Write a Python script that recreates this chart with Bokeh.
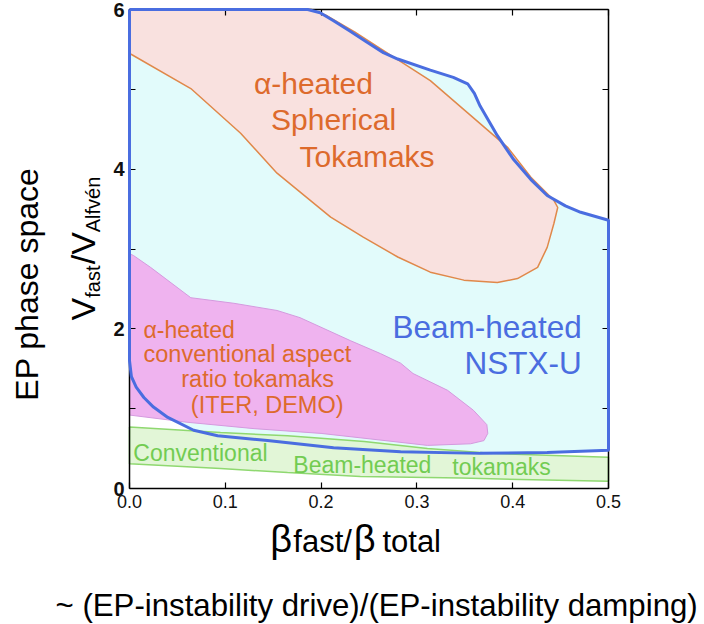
from bokeh.plotting import figure
from bokeh.models import Label, LinearAxis, FixedTicker, NumeralTickFormatter, Range1d
from bokeh.embed import file_html
from bokeh.resources import INLINE

# ---------------- data ----------------
# Beam-heated NSTX-U region boundary (beta_fast/beta_total, V_fast/V_Alfven)
beam_x = [0.0, 0.186, 0.199, 0.213, 0.230, 0.248, 0.265, 0.280, 0.314, 0.338, 0.353, 0.360,
          0.366, 0.384, 0.401, 0.419, 0.436, 0.455, 0.471, 0.5, 0.5, 0.436, 0.366, 0.283,
          0.213, 0.144, 0.092, 0.067, 0.040, 0.025, 0.015, 0.007, 0.002, 0.0]
beam_y = [6.0, 6.0, 5.96, 5.86, 5.73, 5.59, 5.46, 5.38, 5.24, 5.15, 5.07, 4.95,
          4.79, 4.42, 4.12, 3.87, 3.67, 3.54, 3.46, 3.36, 0.48, 0.45, 0.44, 0.46,
          0.51, 0.60, 0.66, 0.73, 0.89, 1.02, 1.14, 1.27, 1.40, 1.60]

# alpha-heated spherical tokamaks region
st_x = [0.0, 0.19, 0.205, 0.235, 0.262, 0.314, 0.366, 0.395, 0.419, 0.443, 0.447, 0.443,
        0.436, 0.426, 0.405, 0.384, 0.349, 0.314, 0.280, 0.244, 0.210, 0.154, 0.116,
        0.064, 0.003, 0.0]
st_y = [6.0, 6.0, 5.93, 5.72, 5.51, 5.11, 4.57, 4.27, 3.90, 3.61, 3.52, 3.32,
        3.02, 2.77, 2.63, 2.58, 2.61, 2.71, 2.90, 3.15, 3.40, 3.95, 4.45,
        5.01, 5.43, 5.45]

# alpha-heated conventional aspect ratio tokamaks region
conv_x = [0.0, 0.004, 0.022, 0.064, 0.109, 0.154, 0.178, 0.231, 0.262, 0.283, 0.296, 0.332,
          0.359, 0.373, 0.374, 0.370, 0.356, 0.311, 0.252, 0.200, 0.130, 0.060, 0.0]
conv_y = [2.94, 2.92, 2.77, 2.39, 2.32, 2.23, 2.14, 1.85, 1.69, 1.57, 1.44, 1.23,
          0.98, 0.80, 0.69, 0.60, 0.56, 0.54, 0.62, 0.69, 0.75, 0.83, 0.92]

# conventional beam-heated tokamaks band
nbi_x = [0.0, 0.095, 0.165, 0.245, 0.311, 0.380, 0.5, 0.5, 0.346, 0.241, 0.165, 0.095, 0.0]
nbi_y = [0.77, 0.70, 0.66, 0.59, 0.50, 0.44, 0.39, 0.09, 0.13, 0.15, 0.20, 0.25, 0.31]

x_ticks = [0.0, 0.1, 0.2, 0.3, 0.4, 0.5]
y_ticks = [0, 2, 4, 6]
y_minor = [1, 3, 5]
right_ticks = [0, 1, 2, 3, 4, 5, 6]
X_MIN, X_MAX = 0.0, 0.5
Y_MIN, Y_MAX = 0.0, 6.0

FONT = "Liberation Sans"
BLUE = "#4a6de0"
ORANGE = "#dd6a2c"
GREEN = "#72cc52"

XPX = 958.0    # pixels per x unit
YPX = 79.83    # pixels per y unit

# the frame spans the whole canvas; the axes are pinned at the data edges
p = figure(width=704, height=624,
           x_range=Range1d(-129 / XPX, 575 / XPX), y_range=Range1d(-136 / YPX, 488 / YPX),
           output_backend="svg", toolbar_location=None,
           x_axis_location=None, y_axis_location=None, min_border=0)
p.xgrid.visible = False
p.ygrid.visible = False
p.outline_line_color = None
p.background_fill_color = "white"
p.border_fill_color = "white"

# regions
p.patch(beam_x, beam_y, fill_color="#e2fbfb", line_color=None)
p.patch(st_x, st_y, fill_color="#f9e1df", line_color="#e0884a", line_width=1.5)
p.patch(conv_x, conv_y, fill_color="#efb3ef", line_color="#d49ade", line_width=1)
p.patch(nbi_x, nbi_y, fill_color="#dff5d3", fill_alpha=0.9, line_color="#8fd870", line_width=1.5)


def style(ax):
    ax.axis_line_color = "black"
    ax.axis_line_width = 1.5
    ax.major_tick_in = 6
    ax.major_tick_out = 0
    ax.minor_tick_in = 6
    ax.minor_tick_out = 0
    ax.major_tick_line_color = "black"
    ax.minor_tick_line_color = "black"
    ax.major_tick_line_width = 1.2
    ax.minor_tick_line_width = 1.2


bottom = LinearAxis(fixed_location=Y_MIN, bounds=(X_MIN, X_MAX), ticker=FixedTicker(ticks=x_ticks),
                    formatter=NumeralTickFormatter(format="0.0"))
style(bottom)
bottom.minor_tick_line_color = None
bottom.major_label_text_font = FONT
bottom.major_label_text_font_size = "18px"
bottom.major_label_text_color = "#111111"
bottom.major_label_standoff = 6
p.add_layout(bottom, "below")

left = LinearAxis(fixed_location=X_MIN, bounds=(Y_MIN, Y_MAX),
                  ticker=FixedTicker(ticks=y_ticks, minor_ticks=y_minor))
style(left)
left.major_label_text_font = FONT
left.major_label_text_font_size = "20px"
left.major_label_text_font_style = "bold"
left.major_label_text_color = "#111111"
left.major_label_standoff = 5
p.add_layout(left, "left")

top = LinearAxis(fixed_location=Y_MAX, bounds=(X_MIN, X_MAX), ticker=FixedTicker(ticks=x_ticks),
                 major_label_text_color=None)
style(top)
top.minor_tick_line_color = None
p.add_layout(top, "above")

right = LinearAxis(fixed_location=X_MAX, bounds=(Y_MIN, Y_MAX), ticker=FixedTicker(ticks=right_ticks),
                   major_label_text_color=None)
style(right)
right.minor_tick_line_color = None
p.add_layout(right, "right")

# blue outline of the beam-heated region drawn over everything
p.line(beam_x + [beam_x[0]], beam_y + [beam_y[0]], line_color=BLUE, line_width=3, level="overlay")

SHIFT = 0.34   # baseline correction, in em


def lab(x, y, text, size, color, align="left", angle=0.0, style="normal"):
    s = float(size.replace("px", ""))
    if angle == 0.0:
        y = y + SHIFT * s / YPX
    else:
        x = x - SHIFT * s / XPX
    p.add_layout(Label(x=x, y=y, text=text, text_font=FONT, text_font_size=size,
                       text_color=color, text_align=align, text_baseline="alphabetic",
                       angle=angle, text_font_style=style))


# region labels
lab(0.192, 4.94, "α-heated", "30px", ORANGE, "center")
lab(0.213, 4.50, "Spherical", "30px", ORANGE, "center")
lab(0.248, 4.035, "Tokamaks", "30px", ORANGE, "center")

lab(0.472, 1.892, "Beam-heated", "31.5px", BLUE, "right")
lab(0.472, 1.441, "NSTX-U", "31.5px", BLUE, "right")

lab(0.0146, 1.892, "α-heated", "23px", ORANGE)
lab(0.0146, 1.59, "conventional aspect", "23.5px", ORANGE)
lab(0.054, 1.266, "ratio tokamaks", "23.5px", ORANGE)
lab(0.064, 0.94, "(ITER, DEMO)", "23.5px", ORANGE)

lab(0.004, 0.351, "Conventional", "23px", GREEN)
lab(0.171, 0.20, "Beam-heated", "23px", GREEN)
lab(0.337, 0.175, "tokamaks", "23px", GREEN)

# x axis title: beta_fast / beta_total
BL = -0.80
lab(0.147, BL, "β", "38px", "black")
lab(0.171, BL, "fast/", "31px", "black")
lab(0.234, BL, "β", "38px", "black")
lab(0.264, BL, "total", "31px", "black")

lab(-0.0772, -1.603, "~ (EP-instability drive)/(EP-instability damping)", "31.2px", "black")

# y axis titles (rotated)
A = 1.5707963
lab(-0.0365, 2.104, "V", "34px", "black", angle=A)
lab(-0.0313, 2.39, "fast", "20px", "black", angle=A)
lab(-0.0365, 2.81, "/V", "34px", "black", angle=A)
lab(-0.0313, 3.21, "Alfvén", "20px", "black", angle=A)

lab(-0.096, 1.10, "EP phase space", "32px", "black", angle=A)

open("out.html", "w").write(file_html(p, INLINE))
